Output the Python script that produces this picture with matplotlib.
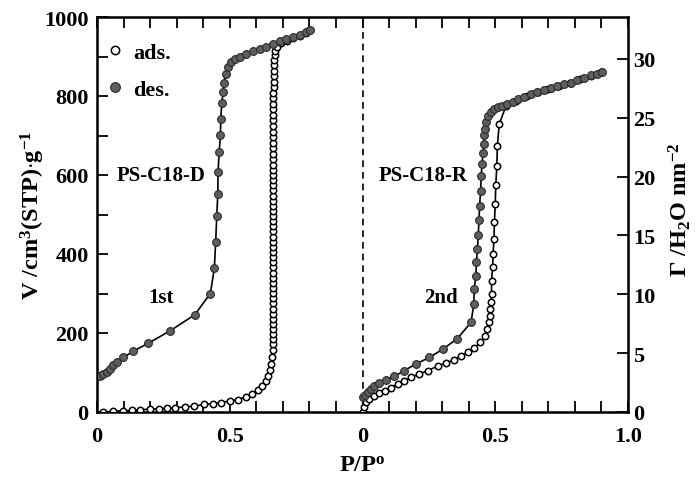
import matplotlib
matplotlib.use("Agg")
import matplotlib.pyplot as plt
from matplotlib.lines import Line2D
from matplotlib.ticker import MultipleLocator, FixedLocator, FixedFormatter

plt.rcParams['font.family'] = ['Liberation Serif', 'DejaVu Serif']
plt.rcParams['font.weight'] = 'bold'
plt.rcParams['mathtext.fontset'] = 'custom'
plt.rcParams['mathtext.rm'] = 'Liberation Serif:bold'
plt.rcParams['mathtext.it'] = 'Liberation Serif:bold'
plt.rcParams['mathtext.bf'] = 'Liberation Serif:bold'

# ---------------- data (P/P0, V cm3(STP)/g) ----------------
# 1st cycle, PS-C18-D : adsorption, low-pressure branch
ads1_low_p = [0.023, 0.061, 0.097, 0.131, 0.163, 0.198, 0.232, 0.264, 0.295, 0.333,
              0.367, 0.402, 0.436, 0.468, 0.501, 0.531, 0.560, 0.585, 0.606, 0.622,
              0.635, 0.645, 0.652, 0.657, 0.660]
ads1_low_v = [0, 2, 3, 4, 6, 7, 8, 9, 11, 13,
              15, 19, 21, 24, 28, 31, 38, 46, 56, 66,
              78, 92, 106, 122, 140]
# adsorption, condensation step (vertical column)
ads1_col_p = [0.662, 0.662, 0.663, 0.662, 0.662, 0.663, 0.662, 0.662, 0.663, 0.662,
              0.662, 0.663, 0.662, 0.662, 0.662, 0.663, 0.662, 0.662, 0.662, 0.663,
              0.662, 0.662, 0.662, 0.663, 0.662, 0.662, 0.662, 0.663, 0.662, 0.662,
              0.663, 0.662, 0.662, 0.663, 0.662, 0.663, 0.663, 0.662, 0.663, 0.663,
              0.662, 0.663, 0.663, 0.663, 0.662, 0.663, 0.663, 0.664, 0.664, 0.664,
              0.665, 0.665, 0.666, 0.666, 0.667, 0.668, 0.669]
ads1_col_v = [158, 171, 184, 197, 210, 223, 236, 249, 262, 275,
              288, 301, 314, 327, 340, 353, 366, 379, 392, 405,
              418, 431, 444, 457, 470, 483, 496, 509, 522, 535,
              548, 561, 574, 587, 600, 613, 626, 640, 654, 668,
              682, 696, 710, 724, 738, 752, 766, 780, 794, 808,
              822, 836, 850, 864, 878, 891, 904]
# adsorption, top (multilayer) branch
ads1_top_p = [0.672, 0.678, 0.694, 0.715, 0.738, 0.763, 0.786, 0.800]
ads1_top_v = [914, 925, 933, 940, 947, 953, 960, 966]

des1_p = [0.011, 0.024, 0.036, 0.049, 0.062, 0.074, 0.099, 0.137, 0.193, 0.274,
          0.368, 0.427, 0.442, 0.447, 0.451, 0.455, 0.456, 0.460, 0.465, 0.466,
          0.470, 0.475, 0.477, 0.485, 0.494, 0.506, 0.519, 0.538, 0.563, 0.588,
          0.613, 0.638, 0.663, 0.688, 0.713, 0.738, 0.763, 0.788, 0.801]
des1_v = [92, 96, 102, 109, 118, 127, 138, 154, 174, 205,
          246, 300, 364, 431, 495, 552, 608, 657, 701, 742,
          782, 809, 832, 856, 873, 885, 894, 900, 906, 913,
          919, 925, 932, 938, 944, 950, 955, 961, 967]

# 2nd cycle, PS-C18-R
ads2_p = [0.000, 0.005, 0.014, 0.026, 0.045, 0.064, 0.083, 0.108, 0.133, 0.158,
          0.183, 0.214, 0.246, 0.283, 0.315, 0.346, 0.371, 0.396, 0.421, 0.444,
          0.461, 0.469, 0.475, 0.479, 0.481, 0.484, 0.486, 0.486, 0.490, 0.492,
          0.495, 0.497, 0.500, 0.502, 0.506, 0.508, 0.515, 0.540, 0.580, 0.620,
          0.660, 0.700, 0.740, 0.780, 0.820, 0.860, 0.900]
ads2_v = [0, 12, 25, 33, 41, 48, 54, 62, 71, 79,
          88, 96, 105, 116, 124, 132, 143, 151, 161, 176,
          193, 210, 227, 244, 261, 278, 300, 332, 366, 400,
          438, 480, 527, 575, 624, 674, 729, 774, 787, 799,
          810, 818, 826, 834, 843, 851, 860]

des2_p = [0.001, 0.008, 0.020, 0.033, 0.045, 0.064, 0.089, 0.120, 0.158, 0.202,
          0.252, 0.302, 0.356, 0.409, 0.419, 0.421, 0.427, 0.429, 0.433, 0.436,
          0.439, 0.441, 0.445, 0.447, 0.450, 0.454, 0.456, 0.459, 0.462, 0.467,
          0.474, 0.484, 0.496, 0.512, 0.527, 0.546, 0.565, 0.587, 0.609, 0.634,
          0.659, 0.684, 0.709, 0.734, 0.759, 0.784, 0.809, 0.834, 0.859, 0.884,
          0.903]
des2_v = [37, 43, 50, 58, 65, 73, 82, 90, 105, 122,
          138, 159, 185, 227, 273, 311, 345, 379, 413, 448,
          487, 522, 560, 597, 628, 656, 678, 701, 716, 733,
          750, 760, 767, 771, 775, 781, 786, 792, 798, 804,
          809, 814, 820, 825, 830, 834, 840, 846, 852, 856,
          861]

xtick_pos = [0, 0.5, 1.0, 1.5, 2.0]
xtick_labels = ['0', '0.5', '0', '0.5', '1.0']
panel_offset = 1.0

ads1_p = ads1_low_p + ads1_col_p + ads1_top_p
ads1_v = ads1_low_v + ads1_col_v + ads1_top_v

# ---------------- figure ----------------
fig = plt.figure(figsize=(6.96, 4.81), dpi=100)
ax = fig.add_axes([97/696, 1-413/481, (628-97)/696, (413-18)/481])

open_kw = dict(color='black', lw=1.2, marker='o', ms=4.6, mfc='white',
               mec='black', mew=1.1)
fill_kw = dict(color='black', lw=1.2, marker='o', ms=5.6, mfc='#5e5e5e',
               mec='#2a2a2a', mew=0.8)

ax.plot(ads1_p, ads1_v, zorder=3, **open_kw)
ax.plot(des1_p, des1_v, zorder=4, **fill_kw)
ax.plot([p + panel_offset for p in ads2_p], ads2_v, zorder=3, **open_kw)
ax.plot([p + panel_offset for p in des2_p], des2_v, zorder=4, **fill_kw)

ax.axvline(panel_offset, color='black', lw=1.2, ls=(0, (4, 3)), zorder=1)

ax.set_xlim(0, 2.0)
ax.set_ylim(0, 1000)
ax.xaxis.set_major_locator(FixedLocator(xtick_pos))
ax.xaxis.set_major_formatter(FixedFormatter(xtick_labels))
ax.xaxis.set_minor_locator(MultipleLocator(0.1))
ax.yaxis.set_major_locator(MultipleLocator(200))
ax.yaxis.set_minor_locator(MultipleLocator(100))
ax.tick_params(axis='both', which='both', direction='in', width=1.3,
               labelsize=16, top=True, right=False)
ax.tick_params(axis='y', which='major', length=8, pad=6)
ax.tick_params(axis='x', which='major', length=8, pad=10)
ax.tick_params(axis='both', which='minor', length=8)
for s in ax.spines.values():
    s.set_linewidth(1.8)

ax2 = ax.twinx()
ax2.set_ylim(0, 33.56)
ax2.yaxis.set_major_locator(MultipleLocator(5))
ax2.tick_params(axis='y', direction='in', length=8, width=1.3, labelsize=16, pad=4)

ax.set_xlabel(r'P/P$^{\mathrm{o}}$', fontsize=17.5, fontweight='bold', labelpad=6)
ax.set_ylabel(r'V /cm$^{\mathrm{3}}$(STP)$\cdot$g$^{\mathrm{-1}}$', fontsize=17.5,
              fontweight='bold', labelpad=-2)
ax2.set_ylabel(r'$\Gamma$ /H$_{\mathrm{2}}$O nm$^{\mathrm{-2}}$', fontsize=17.5,
               fontweight='bold', labelpad=4)
ax2.yaxis.set_label_coords(1.072, 0.515)

for lab in ax.get_xticklabels() + ax.get_yticklabels() + ax2.get_yticklabels():
    lab.set_fontweight('bold')

ax.text(0.24, 600, 'PS-C18-D', fontsize=15, fontweight='bold', ha='center', va='center')
ax.text(0.24, 292, '1st', fontsize=15, fontweight='bold', ha='center', va='center')
ax.text(1.23, 600, 'PS-C18-R', fontsize=15, fontweight='bold', ha='center', va='center')
ax.text(1.295, 292, '2nd', fontsize=15, fontweight='bold', ha='center', va='center')

handles = [Line2D([], [], ls='none', marker='o', ms=6, mfc='white', mec='black', mew=1.1),
           Line2D([], [], ls='none', marker='o', ms=7, mfc='#5e5e5e', mec='#2a2a2a', mew=0.8)]
leg = ax.legend(handles, ['ads.', 'des.'], loc='upper left', bbox_to_anchor=(-0.013, 0.975),
                frameon=False, handlelength=0.8, handletextpad=0.45, labelspacing=0.72,
                borderaxespad=0.3, prop={'family': 'Liberation Serif', 'weight': 'bold', 'size': 16})

fig.savefig('out.png', dpi=100)
